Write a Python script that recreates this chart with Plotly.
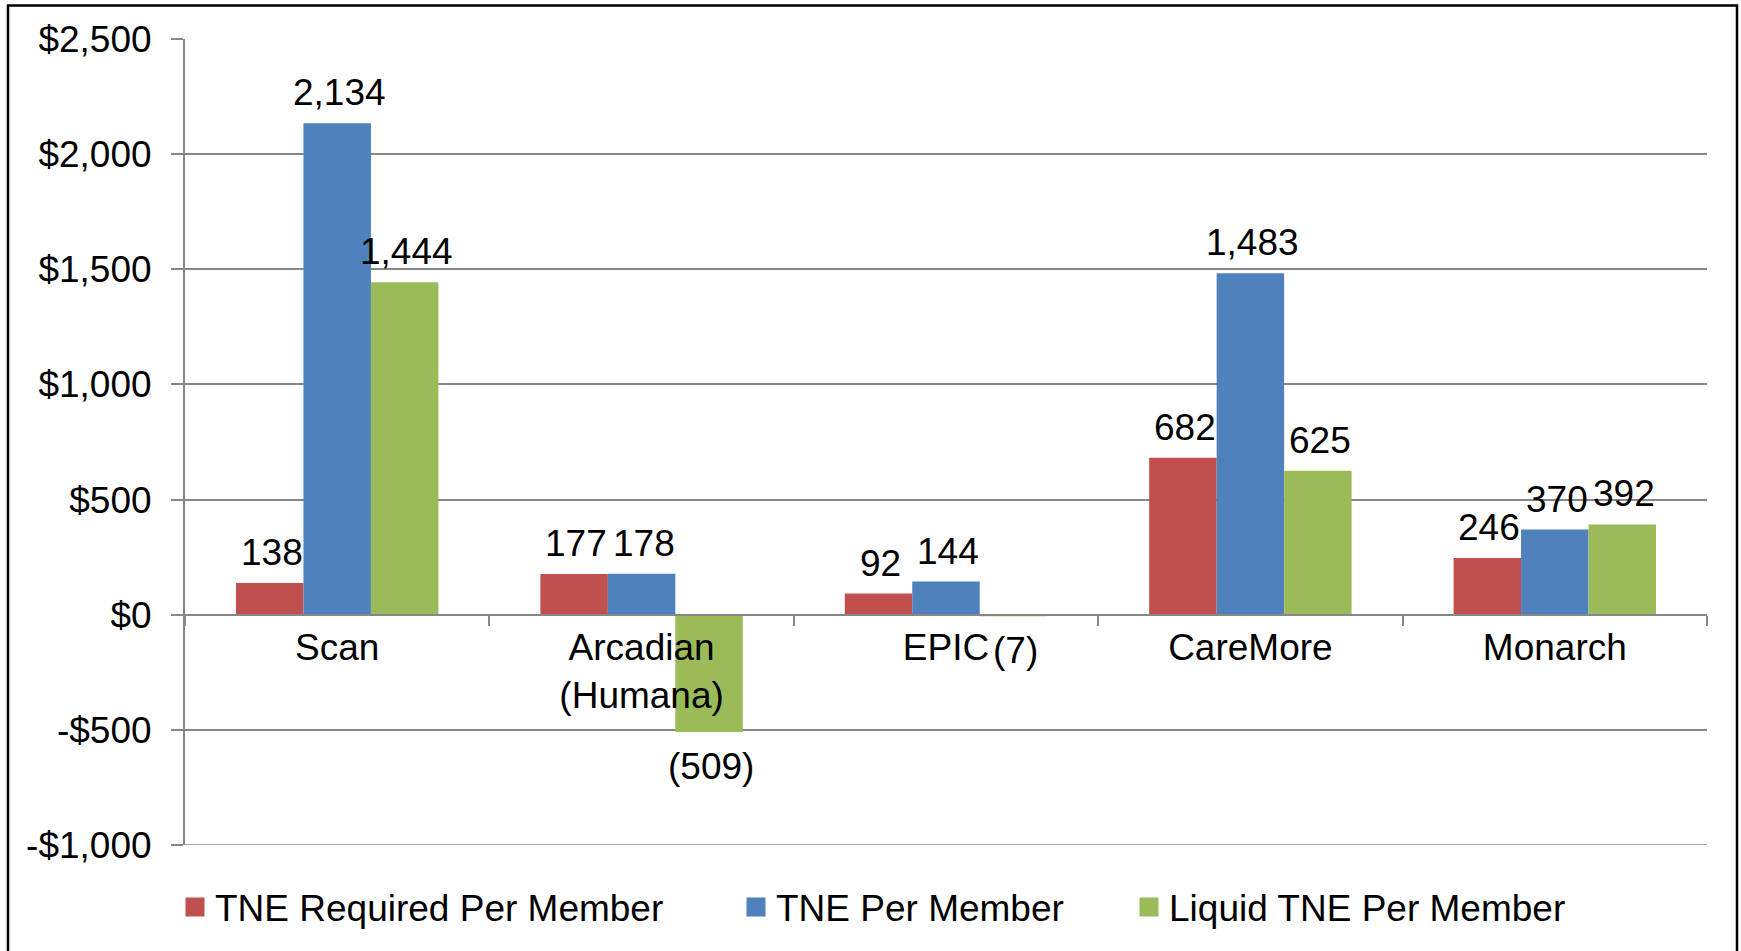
import plotly.graph_objects as go

# ---- data ----
categories = ["Scan", "Arcadian<br>(Humana)", "EPIC", "CareMore", "Monarch"]
tne_required = [138, 177, 92, 682, 246]
tne_per_member = [2134, 178, 144, 1483, 370]
liquid_tne = [1444, -509, -7, 625, 392]
series_names = ["TNE Required Per Member", "TNE Per Member", "Liquid TNE Per Member"]
series_colors = ["#C0504D", "#4F81BD", "#9BBB59"]
y_tick_vals = [-1000, -500, 0, 500, 1000, 1500, 2000, 2500]
y_tick_text = ["-$1,000", "-$500", "$0", "$500", "$1,000", "$1,500", "$2,000", "$2,500"]

series_values = [tne_required, tne_per_member, liquid_tne]

# ---- layout constants ----
W, H = 1741, 951
ML, MR, MT, MB = 185, 34, 39, 106
FONT = "Arial, 'Liberation Sans', sans-serif"
FS = 37
GRID = "#878787"
BARGAP = 0.335
Y_MIN, Y_MAX = -1000, 2500

def fmt(v):
    return f"({abs(v):,})" if v < 0 else f"{v:,}"

fig = go.Figure()
for name, vals, col in zip(series_names, series_values, series_colors):
    fig.add_trace(go.Bar(x=categories, y=vals, name=name, marker_color=col,
                         marker_line_width=0, showlegend=False))

# data labels
n = len(series_values)
bw = (1 - BARGAP) / n
annotations = []
for j, vals in enumerate(series_values):
    for i, v in enumerate(vals):
        annotations.append(dict(
            x=i + (j - (n - 1) / 2) * bw, y=v, xref="x", yref="y",
            text=fmt(v), showarrow=False,
            yanchor="bottom" if v >= 0 else "top",
            yshift=8 if v >= 0 else -12, xshift=2,
            font=dict(family=FONT, size=FS, color="black")))

# legends (one per series so each can be placed)
legend_lefts = [175, 736, 1129]
legend_ids = ["legend", "legend2", "legend3"]
for name, col, lid in zip(series_names, series_colors, legend_ids):
    fig.add_trace(go.Scatter(x=[None], y=[None], mode="markers", name=name,
                             marker=dict(symbol="square", size=16, color=col,
                                         line=dict(color=col, width=3)),
                             legend=lid, showlegend=True))

legend_common = dict(orientation="h", xref="container", yref="container",
                     yanchor="middle", xanchor="left", y=1 - 907.5 / H,
                     bgcolor="rgba(0,0,0,0)", borderwidth=0,
                     font=dict(family=FONT, size=FS, color="black"),
                     itemsizing="trace")
legends = {}
for lid, left in zip(legend_ids, legend_lefts):
    legends[lid] = dict(legend_common, x=left / W)

pw = W - ML - MR
ph = H - MT - MB
def px_to_paper_x(px):
    return (px - ML) / pw
def px_to_paper_y(py):
    return (H - MB - py) / ph

fig.update_layout(
    width=W, height=H,
    margin=dict(l=ML, r=MR, t=MT, b=MB, pad=0, autoexpand=False),
    paper_bgcolor="white", plot_bgcolor="white",
    barmode="group", bargap=BARGAP, bargroupgap=0,
    font=dict(family=FONT, size=FS, color="black"),
    annotations=annotations,
    shapes=[
        dict(type="line", xref="paper", yref="y", x0=0, x1=1, y0=Y_MIN, y1=Y_MIN,
             line=dict(color=GRID, width=1.5), layer="below"),
        dict(type="rect", xref="paper", yref="paper",
             x0=px_to_paper_x(8), x1=px_to_paper_x(1737),
             y0=px_to_paper_y(965), y1=px_to_paper_y(5.5),
             line=dict(color="black", width=2.5), fillcolor="rgba(0,0,0,0)",
             layer="above"),
    ],
    **legends,
)

fig.update_xaxes(
    type="category", range=[-0.5, len(categories) - 0.5],
    anchor="free", position=(0 - Y_MIN) / (Y_MAX - Y_MIN),
    showline=True, linecolor=GRID, linewidth=2,
    ticks="outside", tickson="boundaries", ticklen=10, tickcolor=GRID, tickwidth=1.5,
    showgrid=False, zeroline=False,
    tickfont=dict(family=FONT, size=FS, color="black"),
)
fig.update_yaxes(
    range=[Y_MIN, Y_MAX], tickvals=y_tick_vals, ticktext=y_tick_text,
    showline=True, linecolor=GRID, linewidth=2,
    ticks="outside", ticklen=12, tickcolor=GRID, tickwidth=1.5,
    showgrid=True, gridcolor=GRID, gridwidth=1.5, zeroline=False,
    ticklabelstandoff=12,
    tickfont=dict(family=FONT, size=FS, color="black"),
)

fig.write_html("out.html", config={"displayModeBar": False},
               post_script="document.body.style.margin='0';")
